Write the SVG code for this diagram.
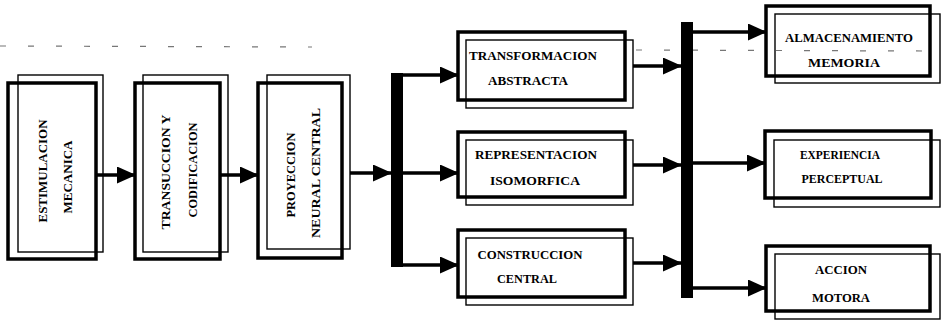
<svg xmlns="http://www.w3.org/2000/svg" width="943" height="324" viewBox="0 0 943 324">
  <style>
    .thick { fill: none; stroke: #000; stroke-width: 3.5; }
    .thin { fill: none; stroke: #000; stroke-width: 1.4; }
    .lbl { font-family: "Liberation Serif", "Times New Roman", serif; font-weight: bold; font-size: 13px; fill: #000; text-anchor: middle; }
    .wire { fill: none; stroke: #000; stroke-width: 3.5; }
    .bar { fill: #000; }
    .guide { stroke: #777; stroke-width: 1.2; stroke-dasharray: 6 22; fill: none; }
  </style>
  <defs>
    <marker id="head" markerWidth="19" markerHeight="17" refX="18" refY="8.5" orient="auto" markerUnits="userSpaceOnUse">
      <path d="M0,0 L19,8.5 L0,17 Z" fill="#000"/>
    </marker>
  </defs>
  <rect width="943" height="324" fill="#fff"/>

  <!-- faint ruled line across the top -->
  <line class="guide" x1="0" y1="46" x2="312" y2="47"/>
  <line class="guide" x1="636" y1="50" x2="925" y2="51"/>

  <!-- input stage: vertical boxes -->
  <g id="estimulacion">
    <rect class="thin" x="18" y="75" width="85" height="177"/>
    <rect class="thick" x="8" y="83" width="88" height="176"/>
    <text class="lbl" transform="translate(47,171) rotate(-90)" textLength="103" lengthAdjust="spacingAndGlyphs">ESTIMULACION</text>
    <text class="lbl" transform="translate(72,177) rotate(-90)" textLength="73" lengthAdjust="spacingAndGlyphs">MECANICA</text>
  </g>
  <g id="transduccion">
    <rect class="thin" x="143" y="75" width="85" height="177"/>
    <rect class="thick" x="135" y="83" width="85" height="176"/>
    <text class="lbl" transform="translate(170,172) rotate(-90)" textLength="115" lengthAdjust="spacingAndGlyphs">TRANSUCCION Y</text>
    <text class="lbl" transform="translate(197,170) rotate(-90)" textLength="95" lengthAdjust="spacingAndGlyphs">CODIFICACION</text>
  </g>
  <g id="proyeccion">
    <rect class="thin" x="267" y="75" width="83" height="174"/>
    <rect class="thick" x="258" y="83" width="84" height="175"/>
    <text class="lbl" transform="translate(295,175) rotate(-90)" textLength="85" lengthAdjust="spacingAndGlyphs">PROYECCION</text>
    <text class="lbl" transform="translate(320,173) rotate(-90)" textLength="130" lengthAdjust="spacingAndGlyphs">NEURAL CENTRAL</text>
  </g>

  <!-- processing stage -->
  <g id="transformacion">
    <rect class="thin" x="466" y="40" width="167" height="68"/>
    <rect class="thick" x="458" y="32" width="167" height="68"/>
    <text class="lbl" x="533" y="60" textLength="128" lengthAdjust="spacingAndGlyphs">TRANSFORMACION</text>
    <text class="lbl" x="528" y="85" textLength="80" lengthAdjust="spacingAndGlyphs">ABSTRACTA</text>
  </g>
  <g id="representacion">
    <rect class="thin" x="466" y="140" width="167" height="65"/>
    <rect class="thick" x="458" y="132" width="167" height="65"/>
    <text class="lbl" x="536" y="159" textLength="122" lengthAdjust="spacingAndGlyphs">REPRESENTACION</text>
    <text class="lbl" x="535" y="185" textLength="90" lengthAdjust="spacingAndGlyphs">ISOMORFICA</text>
  </g>
  <g id="construccion">
    <rect class="thin" x="466" y="238" width="167" height="67"/>
    <rect class="thick" x="458" y="230" width="167" height="67"/>
    <text class="lbl" x="530" y="259" textLength="105" lengthAdjust="spacingAndGlyphs">CONSTRUCCION</text>
    <text class="lbl" x="527" y="283" textLength="60" lengthAdjust="spacingAndGlyphs">CENTRAL</text>
  </g>

  <!-- output stage -->
  <g id="almacenamiento">
    <rect class="thin" x="775" y="14" width="165" height="69"/>
    <rect class="thick" x="766" y="6" width="164" height="70"/>
    <text class="lbl" x="849" y="42" textLength="128" lengthAdjust="spacingAndGlyphs">ALMACENAMIENTO</text>
    <text class="lbl" x="844" y="67" textLength="72" lengthAdjust="spacingAndGlyphs">MEMORIA</text>
  </g>
  <g id="experiencia">
    <rect class="thin" x="774" y="140" width="166" height="67"/>
    <rect class="thick" x="765" y="131" width="166" height="67"/>
    <text class="lbl" x="840" y="159" textLength="80" lengthAdjust="spacingAndGlyphs">EXPERIENCIA</text>
    <text class="lbl" x="842" y="183" textLength="81" lengthAdjust="spacingAndGlyphs">PERCEPTUAL</text>
  </g>
  <g id="accion">
    <rect class="thin" x="775" y="254" width="165" height="65"/>
    <rect class="thick" x="766" y="246" width="164" height="65"/>
    <text class="lbl" x="841" y="274" textLength="52" lengthAdjust="spacingAndGlyphs">ACCION</text>
    <text class="lbl" x="841" y="302" textLength="58" lengthAdjust="spacingAndGlyphs">MOTORA</text>
  </g>

  <!-- connectors and distribution bars -->
  <g id="connectors">
    <line class="wire" x1="96" y1="175" x2="135" y2="175" marker-end="url(#head)"/>
    <line class="wire" x1="220" y1="175" x2="258" y2="175" marker-end="url(#head)"/>
    <line class="wire" x1="350" y1="173" x2="391" y2="173" marker-end="url(#head)"/>

    <rect class="bar" x="391" y="73" width="12" height="194"/>
    <line class="wire" x1="400" y1="75" x2="458" y2="75" marker-end="url(#head)"/>
    <line class="wire" x1="400" y1="173" x2="458" y2="173" marker-end="url(#head)"/>
    <line class="wire" x1="400" y1="265" x2="458" y2="265" marker-end="url(#head)"/>

    <line class="wire" x1="633" y1="66" x2="681" y2="66" marker-end="url(#head)"/>
    <line class="wire" x1="633" y1="165" x2="681" y2="165" marker-end="url(#head)"/>
    <line class="wire" x1="633" y1="263" x2="681" y2="263" marker-end="url(#head)"/>

    <rect class="bar" x="681" y="22" width="12" height="276"/>
    <line class="wire" x1="690" y1="32" x2="766" y2="32" marker-end="url(#head)"/>
    <line class="wire" x1="690" y1="163" x2="765" y2="163" marker-end="url(#head)"/>
    <line class="wire" x1="690" y1="288" x2="766" y2="288" marker-end="url(#head)"/>
  </g>
</svg>
